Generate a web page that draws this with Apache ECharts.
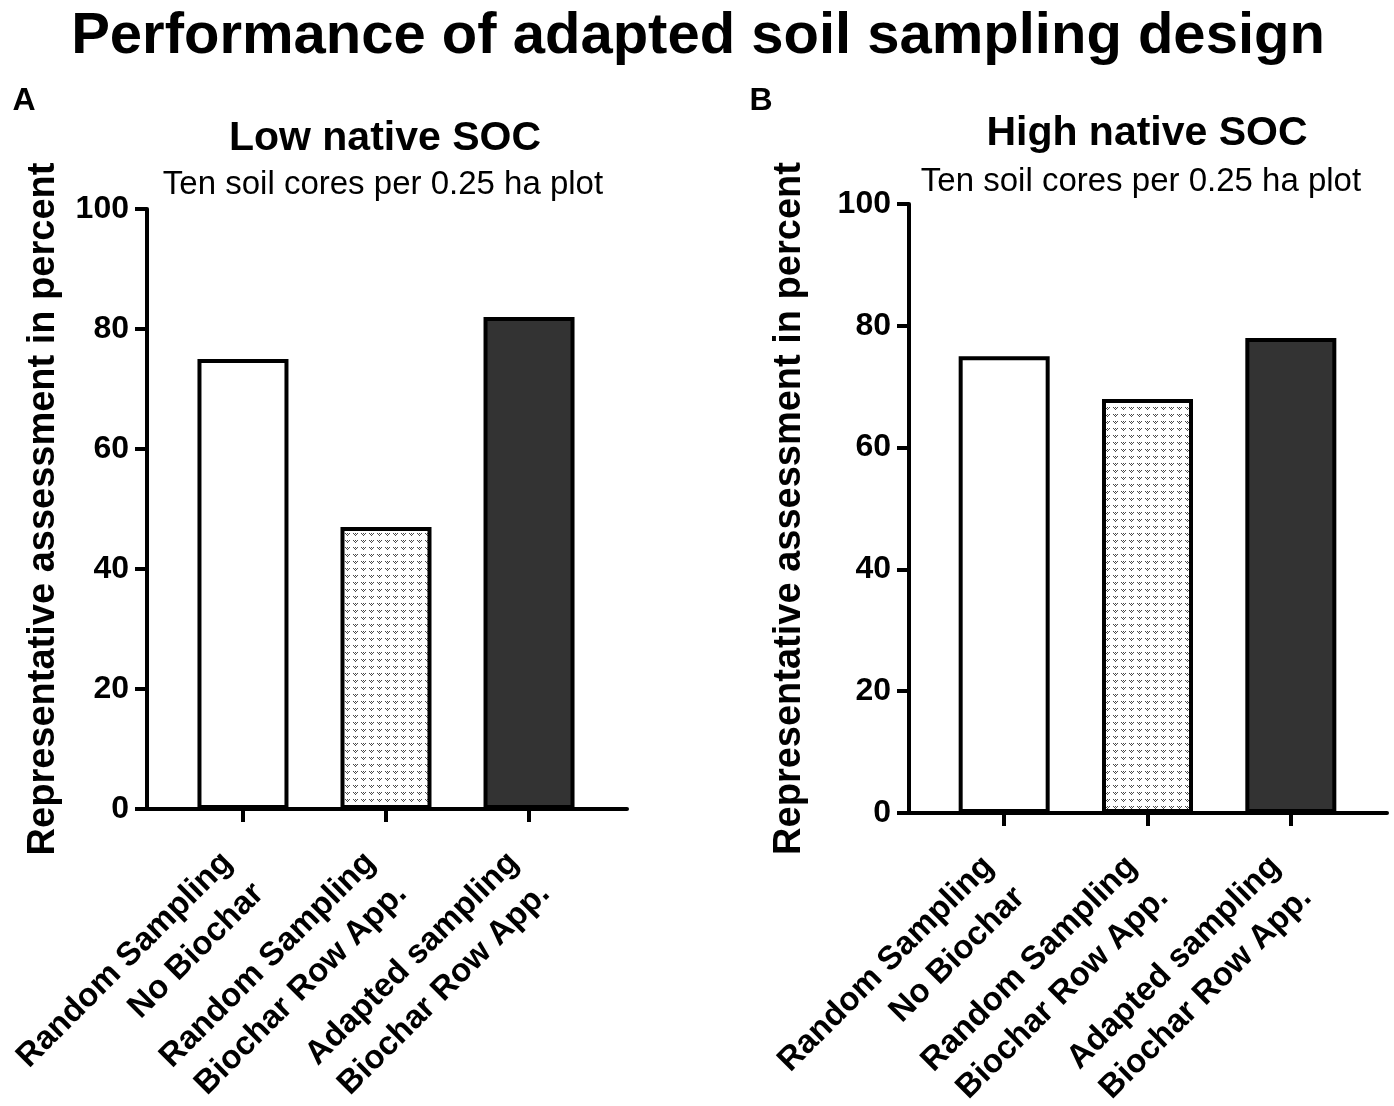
<!DOCTYPE html>
<html>
<head>
<meta charset="utf-8">
<script src="https://cdn.jsdelivr.net/npm/echarts@6/dist/echarts.min.js"></script>
<style>
html,body{margin:0;padding:0;background:#fff;}
#chart{width:1394px;height:1106px;}
</style>
</head>
<body>
<div id="chart"></div>
<script>
// ---- data ----
var categories = ['Random Sampling\nNo Biochar', 'Random Sampling\nBiochar Row App.', 'Adapted sampling\nBiochar Row App.'];
var positions = [0, 1, 2];
var lowSOC = [75, 47, 82];
var highSOC = [75, 68, 78];
var yTicks = [0, 20, 40, 60, 80, 100];
var mainTitle = 'Performance of adapted soil sampling design';
var panelTitles = ['Low native SOC', 'High native SOC'];
var subTitle = 'Ten soil cores per 0.25 ha plot';
var yTitle = 'Representative assessment in percent';

var FONT = '"Liberation Sans", Arial, Helvetica, sans-serif';

// dotted pattern for middle bar
function makePattern() {
  var c = document.createElement('canvas');
  c.width = 8; c.height = 7;
  var g = c.getContext('2d');
  g.fillStyle = '#ffffff';
  g.fillRect(0, 0, 8, 7);
  g.fillStyle = '#4a4a4a';
  g.fillRect(1, 1, 1, 1);
  g.fillRect(3, 1, 1, 1);
  g.fillRect(5, 1, 1, 1);
  g.fillRect(2, 2, 1, 1);
  g.fillRect(4, 2, 1, 1);
  g.fillRect(3, 3, 1, 1);
  return c;
}
var fills = ['#ffffff', {image: makePattern(), repeat: 'repeat'}, '#333333'];

function toPairs(vals) {
  return positions.map(function (p, i) { return [p, vals[i]]; });
}

function xAxisCfg(gridIndex, mn, mx) {
  return {
    type: 'value', gridIndex: gridIndex, min: mn, max: mx,
    splitLine: {show: false},
    axisLine: {show: true, onZero: false, lineStyle: {color: '#000', width: 4}},
    axisTick: {show: true, customValues: positions, length: 13, lineStyle: {color: '#000', width: 4}},
    axisLabel: {
      show: true, customValues: positions, rotate: 45, margin: 64,
      fontFamily: FONT, fontWeight: 'bold', fontSize: 33, color: '#000', lineHeight: 44,
      formatter: function (v) { return categories[Math.round(v)] || ''; }
    }
  };
}
function yAxisCfg(gridIndex, gap) {
  return {
    type: 'value', gridIndex: gridIndex, min: 0, max: 100, interval: 20,
    splitLine: {show: false},
    axisLine: {show: true, onZero: false, lineStyle: {color: '#000', width: 4}},
    axisTick: {show: true, length: 12, lineStyle: {color: '#000', width: 4}},
    axisLabel: {fontFamily: FONT, fontWeight: 'bold', fontSize: 32, color: '#000', margin: 18},
    name: yTitle, nameLocation: 'middle', nameRotate: 90, nameGap: gap,
    nameTextStyle: {fontFamily: FONT, fontWeight: 'bold', fontSize: 38, color: '#000'}
  };
}
function barSeries(idx, vals) {
  return {
    type: 'bar', xAxisIndex: idx, yAxisIndex: idx,
    data: toPairs(vals), barWidth: 91,
    itemStyle: {
      borderColor: '#000', borderWidth: 4,
      color: function (p) { return fills[p.dataIndex]; }
    },
    silent: true, animation: false
  };
}
function txt(x, y, text, size, weight) {
  return {
    type: 'text', x: x, y: y,
    style: {text: text, fontFamily: FONT, fontSize: size, fontWeight: weight, fill: '#000',
            textAlign: 'center', textVerticalAlign: 'middle'}
  };
}

var chart = echarts.init(document.getElementById('chart'), null, {renderer: 'canvas'});
chart.setOption({
  backgroundColor: '#ffffff',
  animation: false,
  grid: [
    {left: 147, top: 209, width: 480, height: 600, containLabel: false, outerBoundsMode: 'none'},
    {left: 909, top: 204, width: 478, height: 609, containLabel: false, outerBoundsMode: 'none'}
  ],
  xAxis: [xAxisCfg(0, -0.671, 2.685), xAxisCfg(1, -0.664, 2.671)],
  yAxis: [yAxisCfg(0, 84), yAxisCfg(1, 100)],
  series: [barSeries(0, lowSOC), barSeries(1, highSOC)],
  graphic: [
    txt(698, 37, mainTitle, 58, 'bold'),
    txt(24, 101, 'A', 32, 'bold'),
    txt(761, 101, 'B', 32, 'bold'),
    txt(385, 139, panelTitles[0], 41, 'bold'),
    txt(383, 185, subTitle, 33, 'normal'),
    txt(1147, 134, panelTitles[1], 41, 'bold'),
    txt(1141, 182, subTitle, 33, 'normal')
  ]
});
</script>
</body>
</html>
